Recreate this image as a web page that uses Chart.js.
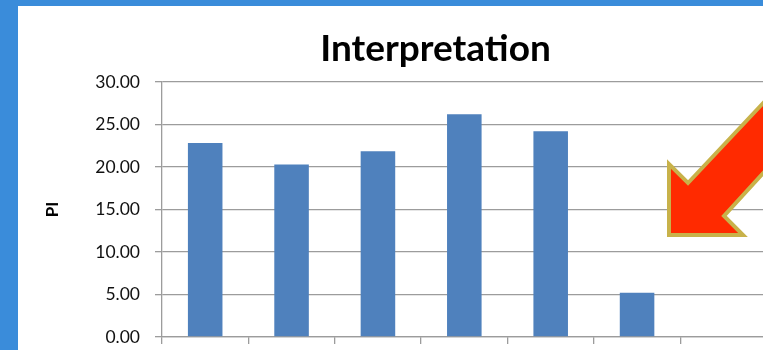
<!DOCTYPE html>
<html lang="en">
<head>
    <meta charset="UTF-8">
    <title>Interpretation</title>
    <script src="https://cdn.jsdelivr.net/npm/chart.js"></script>
    <style>
        html, body { margin: 0; padding: 0; }
        body {
            width: 763px; height: 350px; overflow: hidden;
            background: #3a8cda; position: relative;
        }
        #caja {
            position: absolute; left: 18px; top: 6px;
            width: 836px; height: 370px; background: #fff;
        }
    </style>
</head>
<body>
    <div id="caja"><canvas id="graficaPI" width="836" height="370"></canvas></div>

    <script>
        const categorias = ['1', '2', '3', '4', '5', '6', '7', '8'];
        const valoresPI = [22.82, 20.28, 21.85, 26.2, 24.2, 5.2, null, null];
        const ticksY = [0, 5, 10, 15, 20, 25, 30];

        // flecha roja encima del grafico (coordenadas del canvas)
        const flecha = {
            id: 'flecha',
            afterDraw(chart) {
                const c = chart.ctx;
                const pts = [[651, 229], [651, 158], [670, 177], [812, 26],
                             [812, 94], [706, 210], [725, 229]];
                c.save();
                c.beginPath();
                c.moveTo(pts[0][0], pts[0][1]);
                for (let i = 1; i < pts.length; i++) c.lineTo(pts[i][0], pts[i][1]);
                c.closePath();
                c.fillStyle = '#ff2a00';
                c.fill();
                c.lineWidth = 4;
                c.lineJoin = 'miter';
                c.strokeStyle = '#c8b24a';
                c.stroke();
                c.restore();
            }
        };

        const ctx = document.getElementById('graficaPI').getContext('2d');
        const grafica = new Chart(ctx, {
            type: 'bar',
            data: {
                labels: categorias,
                datasets: [{
                    label: 'PI',
                    data: valoresPI,
                    backgroundColor: '#4f81bd',
                    borderWidth: 0,
                    categoryPercentage: 1,
                    barPercentage: 0.4
                }]
            },
            options: {
                responsive: false,
                animation: false,
                layout: { padding: { left: 0, right: 1, top: 0, bottom: 0 } },
                plugins: {
                    legend: { display: false },
                    tooltip: { enabled: false },
                    title: {
                        display: true,
                        text: 'Interpretation',
                        color: '#000',
                        font: { family: 'Lato', size: 37, weight: 'bold', lineHeight: 1.2 },
                        padding: { top: 21, bottom: 10.6 }
                    }
                },
                scales: {
                    x: {
                        grid: {
                            offset: true,
                            drawOnChartArea: false,
                            drawTicks: true,
                            tickLength: 7,
                            color: '#9c9c9c',
                            lineWidth: 1.3
                        },
                        border: { color: '#9c9c9c', width: 1.3 },
                        ticks: { padding: 20, color: '#1a1a1a', font: { family: 'Lato', size: 17 } },
                        afterFit(scale) { scale.height = 39; }
                    },
                    y: {
                        min: 0,
                        max: 30,
                        afterBuildTicks(scale) { scale.ticks = ticksY.map(v => ({ value: v })); },
                        ticks: {
                            padding: 15,
                            color: '#111',
                            font: { family: 'Lato', size: 17.5 },
                            callback: v => v.toFixed(2)
                        },
                        grid: { color: '#9c9c9c', lineWidth: 1.3, tickLength: 7 },
                        border: { color: '#9c9c9c', width: 1.3 },
                        title: {
                            display: true,
                            text: 'PI',
                            color: '#000',
                            font: { family: 'Lato', size: 17, weight: 'bold', lineHeight: 1.2 },
                            padding: 24
                        },
                        afterFit(scale) { scale.width = 144; }
                    }
                }
            },
            plugins: [flecha]
        });
    </script>
</body>
</html>
